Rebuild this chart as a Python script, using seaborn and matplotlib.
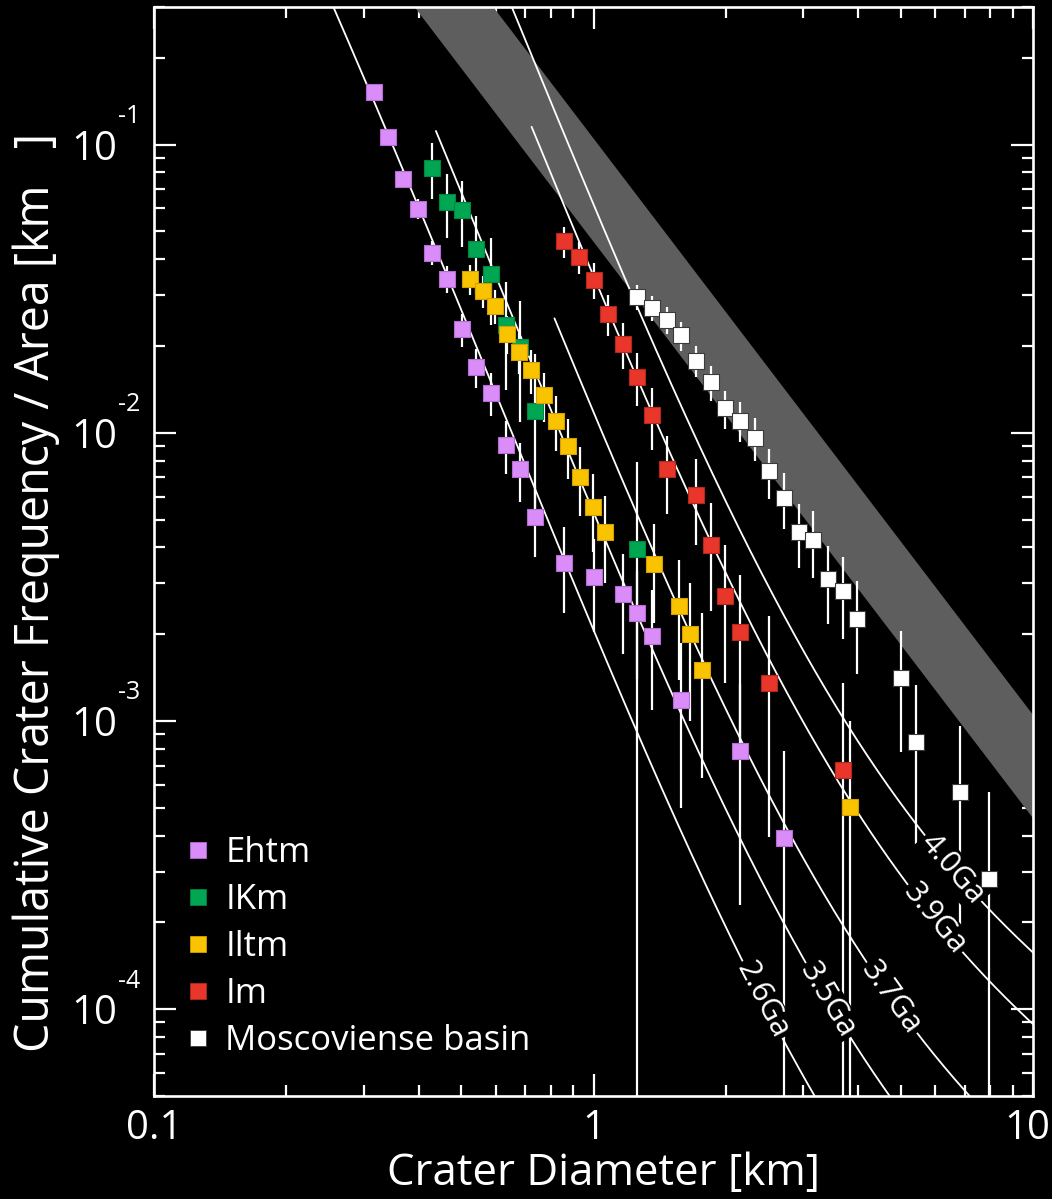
import numpy as np
import pandas as pd
import matplotlib
matplotlib.use("Agg")
import matplotlib.pyplot as plt
from matplotlib.lines import Line2D
from matplotlib.ticker import FixedLocator, FixedFormatter, LogLocator, NullFormatter
import seaborn as sns

# ---------------------------------------------------------------------------
# Crater counts: bin diameter (km) and cumulative number of craters >= D,
# with the counting area (km^2) of each unit.
# ---------------------------------------------------------------------------
units = ["Ehtm", "IKm", "Iltm", "Im", "Moscoviense basin"]

ehtm_d = [0.316, 0.341, 0.369, 0.398, 0.430, 0.464, 0.501, 0.541, 0.584, 0.631,
          0.681, 0.736, 0.858, 1.000, 1.166, 1.259, 1.359, 1.585, 2.154, 2.712]
ehtm_n = [386, 269, 193, 152, 107, 87, 58, 43, 35, 23,
          19, 13, 9, 8, 7, 6, 5, 3, 2, 1]
ehtm_area = 2540.0

ikm_d = [0.430, 0.464, 0.501, 0.541, 0.584, 0.631, 0.681, 0.736, 1.259]
ikm_n = [21, 16, 15, 11, 9, 6, 5, 3, 1]
ikm_area = 253.0

iltm_d = [0.524, 0.560, 0.597, 0.635, 0.676, 0.721, 0.771, 0.823, 0.877,
          0.934, 0.996, 1.062, 1.371, 1.561, 1.662, 1.770, 3.824]
iltm_n = [68, 62, 55, 44, 38, 33, 27, 22, 18, 14, 11, 9, 7, 5, 4, 3, 1]
iltm_area = 1995.0

im_d = [0.858, 0.926, 1.000, 1.080, 1.166, 1.259, 1.359, 1.468, 1.711,
        1.848, 1.995, 2.154, 2.512, 3.687]
im_n = [68, 60, 50, 38, 30, 23, 17, 11, 9, 6, 4, 3, 2, 1]
im_area = 1475.0

mosc_d = [1.259, 1.359, 1.468, 1.585, 1.711, 1.848, 1.995, 2.154, 2.326, 2.512,
          2.712, 2.929, 3.162, 3.415, 3.687, 3.981, 5.012, 5.412, 6.813, 7.943]
mosc_n = [105, 96, 87, 77, 63, 53, 43, 39, 34, 26,
          21, 16, 15, 11, 10, 8, 5, 3, 2, 1]
mosc_area = 3540.0

unit_colors = {"Ehtm": "#DA8CF8", "IKm": "#00A651", "Iltm": "#F9C300",
               "Im": "#E8362A", "Moscoviense basin": "#FFFFFF"}
unit_edges = {"Ehtm": "#B46CD2", "IKm": "#00863F", "Iltm": "#D49F00",
              "Im": "#B5271E", "Moscoviense basin": "#3A3A3A"}

# Model isochrons: N(1 km) per age and the diameter where each curve starts
iso_labels = ["2.6Ga", "3.5Ga", "3.7Ga", "3.9Ga", "4.0Ga"]
iso_n1 = [0.00207, 0.0053, 0.0118, 0.035, 0.062]
iso_dmin = [0.2, 0.438, 0.815, 0.723, 0.5]
iso_label_d = [2.42, 3.41, 4.76, 5.97, 6.56]

# Saturation equilibrium band (straight in log-log)
band_d = [0.1, 10.0]
band_low = [4.6, 4.6e-4]
band_high = [10.5, 1.05e-3]

# Axis ticks
x_ticks = [0.1, 1, 10]
x_ticklabels = ["0.1", "1", "10"]
y_ticks = [1e-4, 1e-3, 1e-2, 1e-1]
y_exponents = ["-4", "-3", "-2", "-1"]

# Neukum (1983) lunar production function, coefficients a1..a11
pf_coef = [-3.6269, 0.4366, 0.7935, 0.0865, -0.2649, -0.0664,
           0.0379, 0.0106, -0.0022, -5.18e-4, 3.97e-5]


def production(d, n1):
    x = np.log10(d)
    poly = sum(a * x ** (k + 1) for k, a in enumerate(pf_coef))
    return n1 * 10.0 ** poly


# ---------------------------------------------------------------------------
# Tidy table of cumulative densities and Poisson errors
# ---------------------------------------------------------------------------
frames = []
for name, d, n, area in [("Ehtm", ehtm_d, ehtm_n, ehtm_area),
                         ("IKm", ikm_d, ikm_n, ikm_area),
                         ("Iltm", iltm_d, iltm_n, iltm_area),
                         ("Im", im_d, im_n, im_area),
                         ("Moscoviense basin", mosc_d, mosc_n, mosc_area)]:
    n = np.asarray(n, float)
    frames.append(pd.DataFrame({"unit": name, "D": d,
                                "density": n / area,
                                "err": np.sqrt(n) / area}))
df = pd.concat(frames, ignore_index=True)

# ---------------------------------------------------------------------------
# Style
# ---------------------------------------------------------------------------
sns.set_theme(style="ticks", rc={
    "figure.facecolor": "black", "axes.facecolor": "black",
    "savefig.facecolor": "black", "axes.edgecolor": "white",
    "text.color": "white", "axes.labelcolor": "white",
    "xtick.color": "white", "ytick.color": "white",
})
plt.rcParams["font.family"] = ["Open Sans", "DejaVu Sans"]

fig, ax = plt.subplots(figsize=(10.52, 11.99), dpi=100)
fig.subplots_adjust(left=154 / 1052, right=1033 / 1052,
                    bottom=1 - 1096 / 1199, top=1 - 7 / 1199)
ax.set_xscale("log")
ax.set_yscale("log")
ax.set_xlim(0.1, 10)
ax.set_ylim(5e-5, 0.3)

# saturation band
ax.fill_between(band_d, band_low, band_high, color="#5E5E5E", lw=0, zorder=1)

# isochrons
for n1, dmin in zip(iso_n1, iso_dmin):
    dd = np.logspace(np.log10(dmin), 1.05, 400)
    ax.plot(dd, production(dd, n1), color="white", lw=1.3, zorder=2)

# error bars
lower = np.minimum(df["err"], df["density"] * (1 - 1e-9))
ax.errorbar(df["D"], df["density"], yerr=[lower, df["err"]], fmt="none",
            ecolor="white", elinewidth=1.6, capsize=0, zorder=3)

# data points
for name in units:
    sub = df[df["unit"] == name]
    sns.scatterplot(data=sub, x="D", y="density", marker="s", s=125,
                    color=unit_colors[name], edgecolor=unit_edges[name],
                    linewidth=0.8, zorder=4, ax=ax, legend=False)

# isochron labels, aligned with the curves (they mask lines and bars beneath)
for lab, n1, dl in zip(iso_labels, iso_n1, iso_label_d):
    p1 = ax.transData.transform((dl * 0.97, production(dl * 0.97, n1)))
    p2 = ax.transData.transform((dl * 1.03, production(dl * 1.03, n1)))
    ang = np.degrees(np.arctan2(p2[1] - p1[1], p2[0] - p1[0]))
    ax.text(dl, production(dl, n1), lab, rotation=ang, rotation_mode="anchor",
            ha="center", va="center", fontsize=22, color="white", zorder=3.5,
            bbox=dict(facecolor="black", edgecolor="none", pad=1.5))

# axes, ticks
ax.xaxis.set_major_locator(FixedLocator(x_ticks))
ax.xaxis.set_major_formatter(FixedFormatter(x_ticklabels[:-1] + [""]))
ax.xaxis.set_minor_locator(LogLocator(base=10, subs=np.arange(2, 10)))
ax.xaxis.set_minor_formatter(NullFormatter())
ax.yaxis.set_major_locator(FixedLocator(y_ticks))
ax.yaxis.set_major_formatter(FixedFormatter(["10"] * len(y_ticks)))
ax.yaxis.set_minor_locator(LogLocator(base=10, subs=np.arange(2, 10)))
ax.yaxis.set_minor_formatter(NullFormatter())

ax.tick_params(which="both", direction="in", top=True, right=True,
               color="white", width=1.6)
ax.tick_params(which="major", length=15.5, labelsize=29)
ax.tick_params(axis="x", which="major", pad=9)
ax.tick_params(axis="y", which="major", pad=26.5)
ax.tick_params(which="minor", length=8)
for sp in ax.spines.values():
    sp.set_color("white")
    sp.set_linewidth(1.9)

# powers of ten: raised exponents next to the "10" tick labels
for val, ex in zip(y_ticks, y_exponents):
    ax.annotate(ex, xy=(0, val), xycoords=("axes fraction", "data"),
                xytext=(-36, 28), textcoords="offset pixels",
                ha="left", va="center", fontsize=18, color="white")

# last x tick label kept inside the canvas
ax.annotate(x_ticklabels[-1], xy=(1, 0), xycoords="axes fraction",
            xytext=(17, -12.5), textcoords="offset pixels",
            ha="right", va="top", fontsize=29, color="white")

ax.set_xlabel("Crater Diameter [km]", fontsize=31.5, labelpad=2)
ax.xaxis.label.set_x(0.511)
ax.set_ylabel("Cumulative Crater Frequency / Area [km   ]", fontsize=33.5,
              labelpad=8)
ax.yaxis.label.set_y(0.462)

handles = [Line2D([], [], marker="s", ls="none", markersize=11,
                  markerfacecolor=unit_colors[u], markeredgecolor=unit_edges[u],
                  markeredgewidth=0.6) for u in units]
ax.legend(handles, units, loc="lower left", bbox_to_anchor=(0.003, 0.009),
          frameon=False, fontsize=25, labelcolor="white",
          handlelength=0.8, handletextpad=0.375, labelspacing=0.375,
          borderaxespad=0.4)

fig.savefig("out.png", dpi=100, facecolor="black")
